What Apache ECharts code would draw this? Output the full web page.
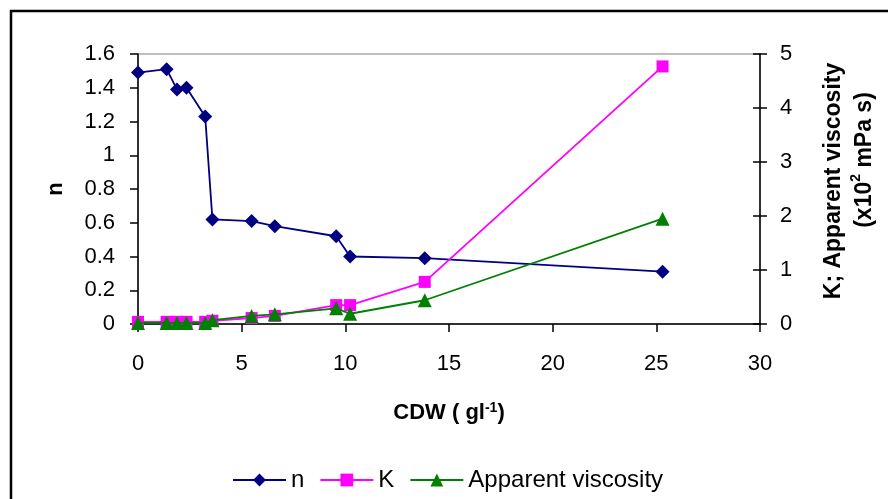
<!DOCTYPE html>
<html>
<head>
<meta charset="utf-8">
<script src="https://cdn.jsdelivr.net/npm/echarts@6/dist/echarts.min.js"></script>
<style>
  html, body { margin: 0; padding: 0; background: #ffffff; }
  #chart { width: 888px; height: 499px; }
</style>
</head>
<body>
<div id="chart"></div>
<script>
// Cell dry weight (g/l) at each sampling point
const cdw = [0, 1.38, 1.88, 2.34, 3.24, 3.59, 5.48, 6.6, 9.56, 10.23, 13.83, 25.3];
// Flow behaviour index n (left axis)
const nValues = [1.49, 1.51, 1.39, 1.40, 1.23, 0.62, 0.61, 0.58, 0.52, 0.40, 0.39, 0.31];
// Consistency index K (right axis, x10^2 mPa s)
const kValues = [0.04, 0.04, 0.04, 0.04, 0.04, 0.06, 0.11, 0.15, 0.35, 0.35, 0.78, 4.77];
// Apparent viscosity (right axis, x10^2 mPa s)
const viscValues = [0.02, 0.02, 0.02, 0.02, 0.02, 0.07, 0.15, 0.18, 0.29, 0.19, 0.44, 1.95];

const seriesNames = ['n', 'K', 'Apparent viscosity'];

const pairs = (xs, ys) => xs.map((x, i) => [x, ys[i]]);

const FONT = 'Liberation Sans, Arial, sans-serif';
const TICK_FONT = 22;
const TITLE_FONT = 22;

const chart = echarts.init(document.getElementById('chart'), null, { renderer: 'canvas' });

chart.setOption({
  backgroundColor: '#ffffff',
  animation: false,
  textStyle: { fontFamily: FONT, color: '#000' },
  grid: {
    left: 138, right: 125, top: 54, bottom: 175,
    show: true, borderColor: '#808080', borderWidth: 1, backgroundColor: 'transparent'
  },
  legend: {
    data: seriesNames,
    left: 232, top: 468, padding: 0,
    itemWidth: 53, itemHeight: 16, itemGap: 15,
    textStyle: { fontFamily: FONT, fontSize: 24, color: '#000' }
  },
  xAxis: {
    type: 'value', min: 0, max: 30, interval: 5,
    name: '{t|CDW ( gl}{s|-1}{t|)}',
    nameLocation: 'middle', nameGap: 77,
    nameTextStyle: {
      rich: {
        t: { fontFamily: FONT, fontSize: TITLE_FONT, fontWeight: 'bold', color: '#000' },
        s: { fontFamily: FONT, fontSize: 14, fontWeight: 'bold', color: '#000', verticalAlign: 'top', padding: [0, 0, 9, 0] }
      }
    },
    axisLine: { lineStyle: { color: '#000', width: 1.5 } },
    axisTick: { inside: false, length: 8, lineStyle: { color: '#000', width: 1.5 } },
    axisLabel: { fontSize: TICK_FONT, color: '#000', margin: 29, fontFamily: FONT },
    splitLine: { show: false }
  },
  yAxis: [
    {
      type: 'value', min: 0, max: 1.6, interval: 0.2, position: 'left',
      name: 'n', nameLocation: 'middle', nameGap: 71, nameRotate: 90,
      nameTextStyle: { fontFamily: FONT, fontSize: TITLE_FONT, fontWeight: 'bold', color: '#000' },
      axisLine: { show: true, lineStyle: { color: '#000', width: 1.5 } },
      axisTick: { show: true, length: 8, lineStyle: { color: '#000', width: 1.5 } },
      axisLabel: { fontSize: TICK_FONT, color: '#000', margin: 23, fontFamily: FONT },
      splitLine: { show: false }
    },
    {
      type: 'value', min: 0, max: 5, interval: 1, position: 'right',
      name: '{a|K; Apparent viscosity}\n{p| }{b|(x10}{c|2}{b| mPa s)}',
      nameLocation: 'middle', nameGap: 58, nameRotate: 90,
      nameTextStyle: {
        padding: [0, 0, 0, 16],
        lineHeight: 31,
        rich: {
          a: { fontFamily: FONT, fontSize: 23, fontWeight: 'bold', color: '#000', lineHeight: 31 },
          b: { fontFamily: FONT, fontSize: 23, fontWeight: 'bold', color: '#000', lineHeight: 31 },
          c: { fontFamily: FONT, fontSize: 14, fontWeight: 'bold', color: '#000', verticalAlign: 'top', lineHeight: 31, padding: [0, 0, 10, 0] },
          p: { fontSize: 23, width: 42, lineHeight: 31 }
        }
      },
      axisLine: { show: true, lineStyle: { color: '#000', width: 1.5 } },
      axisTick: { show: true, length: 7, lineStyle: { color: '#000', width: 1.5 } },
      axisLabel: { fontSize: TICK_FONT, color: '#000', margin: 20, fontFamily: FONT },
      splitLine: { show: false }
    },
    {
      // inner half of the crossing ticks on the right axis
      type: 'value', min: 0, max: 5, interval: 1, position: 'right',
      axisLine: { show: false },
      axisTick: { show: true, inside: true, length: 7, lineStyle: { color: '#000', width: 1.5 } },
      axisLabel: { show: false },
      splitLine: { show: false }
    }
  ],
  series: [
    {
      name: seriesNames[0], type: 'line', yAxisIndex: 0,
      data: pairs(cdw, nValues),
      symbol: 'diamond', symbolSize: 14,
      lineStyle: { color: '#000080', width: 1.8 },
      itemStyle: { color: '#000080' },
      z: 3
    },
    {
      name: seriesNames[1], type: 'line', yAxisIndex: 1,
      data: pairs(cdw, kValues),
      symbol: 'rect', symbolSize: 12,
      lineStyle: { color: '#FF00FF', width: 1.8 },
      itemStyle: { color: '#FF00FF' },
      z: 4
    },
    {
      name: seriesNames[2], type: 'line', yAxisIndex: 1,
      data: pairs(cdw, viscValues),
      symbol: 'triangle', symbolSize: 14,
      lineStyle: { color: '#008000', width: 1.8 },
      itemStyle: { color: '#008000' },
      z: 5
    }
  ],
  graphic: [
    {
      type: 'rect', silent: true, z: 100,
      shape: { x: 11, y: 11, width: 900, height: 520 },
      style: { fill: 'none', stroke: '#000', lineWidth: 2.5 }
    }
  ]
});
</script>
</body>
</html>
